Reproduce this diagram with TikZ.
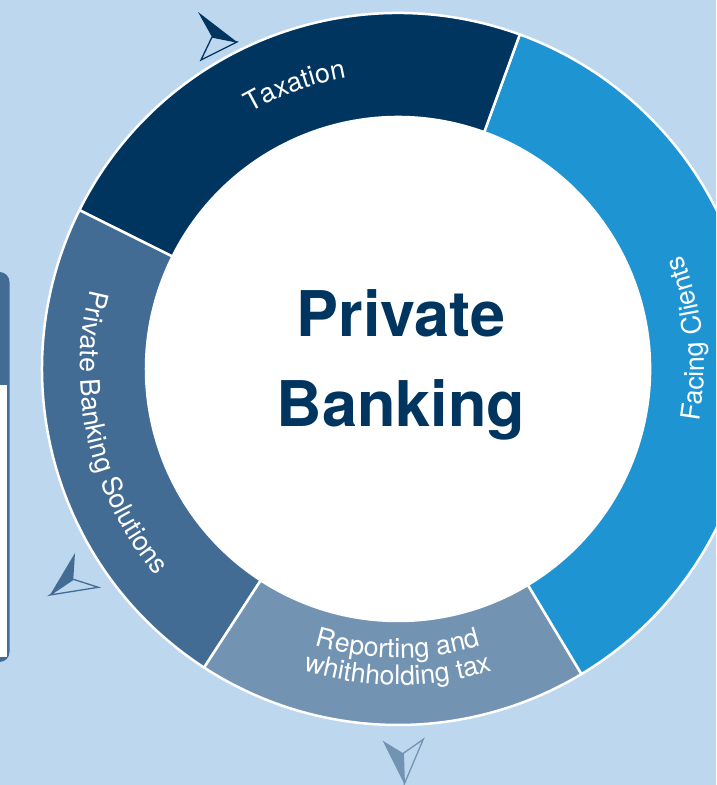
\documentclass[tikz,border=0pt]{standalone}
\usepackage{fontspec}
\setmainfont{TeX Gyre Heros}
\usetikzlibrary{decorations.text}
\definecolor{bg}{HTML}{BDD7EE}
\definecolor{navy}{HTML}{003560}
\definecolor{skyb}{HTML}{1E94D2}
\definecolor{steel}{HTML}{436C94}
\definecolor{greyb}{HTML}{7393B3}
\newcommand\lbl{\fontsize{26.8}{32}\selectfont\color{white}}
\begin{document}
\begin{tikzpicture}[x=1pt,y=1pt,
  seg/.style={draw=white, line width=2.5pt, line join=round},
  curvelabel/.style={decorate, decoration={text along path, text align=center, text={|\lbl|#1}}},
  arrowoutline/.style={draw=#1, line width=1.3pt, line join=miter, fill=none}]
\useasboundingbox (0,0) rectangle (716,785);
\clip (0,0) rectangle (716,785);
\fill[bg] (0,0) rectangle (716,785);

% partial box at the left edge
\fill[steel, rounded corners=10pt] (-20,123) rectangle (9.5,513);
\fill[white] (-20,128) rectangle (6.5,400);

% ring
\begin{scope}[shift={(398,416)}]
  \def\Ro{356}\def\Ri{252}
  \filldraw[seg, fill=skyb] (-59:\Ro) arc[start angle=-59, end angle=70, radius=\Ro] -- (70:\Ri) arc[start angle=70, end angle=-59, radius=\Ri] -- cycle;
  \filldraw[seg, fill=navy] (70:\Ro) arc[start angle=70, end angle=153.5, radius=\Ro] -- (153.5:\Ri) arc[start angle=153.5, end angle=70, radius=\Ri] -- cycle;
  \filldraw[seg, fill=steel] (153.5:\Ro) arc[start angle=153.5, end angle=237, radius=\Ro] -- (237:\Ri) arc[start angle=237, end angle=153.5, radius=\Ri] -- cycle;
  \filldraw[seg, fill=greyb] (237:\Ro) arc[start angle=237, end angle=301, radius=\Ro] -- (301:\Ri) arc[start angle=301, end angle=237, radius=\Ri] -- cycle;
  \fill[white] (0,0) circle[radius=\Ri];

  % curved labels
  \path[curvelabel=Taxation] (145:296) arc[start angle=145, end angle=75, radius=296];
  \path[curvelabel=Facing Clients] (-34:306) arc[start angle=-34, end angle=46, radius=306];
  \path[curvelabel=Private Banking Solutions] (158:318) arc[start angle=158, end angle=228, radius=318];
  \path[curvelabel=Reporting and] (235:289) arc[start angle=235, end angle=305, radius=289];
  \path[curvelabel=whithholding tax] (235:316) arc[start angle=235, end angle=305, radius=316];
\end{scope}

% centre title
\node[anchor=base, text=navy, font=\fontsize{63}{70}\selectfont\bfseries, inner sep=0] (title1) at (401,448) {Private};
\node[anchor=base, text=navy, font=\fontsize{63}{70}\selectfont\bfseries, inner sep=0] (title2) at (401,358) {Banking};

% pointer marks
\coordinate (ta) at (198,773); \coordinate (tb) at (237,743);
\coordinate (tc) at (201,725); \coordinate (td) at (212,748);
\fill[navy] (ta) -- (tb) -- (td) -- cycle;
\draw[arrowoutline=navy] (td) -- (tb) -- (tc) -- cycle;

\coordinate (lt) at (75,232); \coordinate (ln) at (73.3,205.7);
\coordinate (lr) at (98.3,197.7); \coordinate (lp) at (50,190);
\fill[steel] (lt) -- (ln) -- (lp) -- cycle;
\draw[arrowoutline=steel] (ln) -- (lr) -- (lp) -- cycle;

\coordinate (bl) at (382.7,44.3); \coordinate (bn) at (403.3,31.7);
\coordinate (br) at (423.3,45.7); \coordinate (bp) at (404.3,1);
\fill[greyb] (bl) -- (bn) -- (bp) -- cycle;
\draw[arrowoutline=greyb] (bn) -- (br) -- (bp) -- cycle;
\end{tikzpicture}
\end{document}
